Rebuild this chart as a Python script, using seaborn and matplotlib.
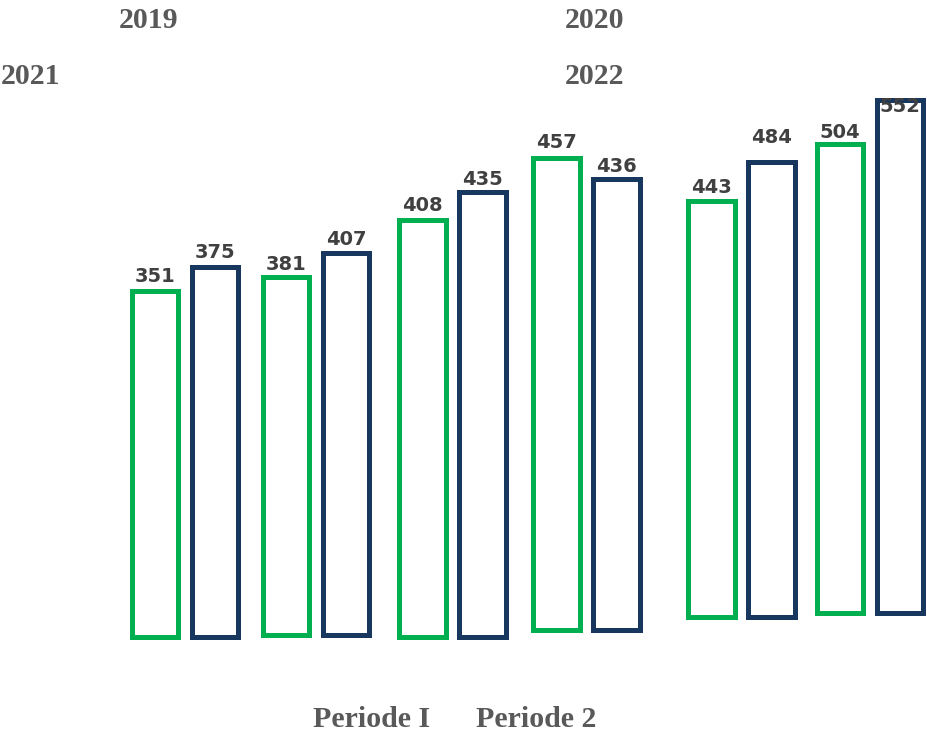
import matplotlib
matplotlib.use("Agg")
import matplotlib.pyplot as plt
import pandas as pd
import seaborn as sns

# data
periods = ["Periode I", "Periode 2"]
years = ["2019", "2020", "2021", "2022"]
periode_1 = [351, 381, 408, 457, 443, 504]
periode_2 = [375, 407, 435, 436, 484, 552]

colors = {"Periode I": "#00B050", "Periode 2": "#17375E"}

sns.set_theme(style="white")
plt.rcParams['font.family'] = ['DejaVu Sans']

W, H = 927, 733
fig = plt.figure(figsize=(W / 100, H / 100), dpi=100)

# pixel layout of each pair of bars: left bar centre, baseline, px per unit
centres = [155, 286, 422.5, 556.7, 711.7, 840]
baselines = [637.2, 634.5, 637.3, 629.7, 616.9, 612.6]
px_per_unit = [0.986, 0.938, 1.023, 1.033, 0.939, 0.929]
# label offset above each bar top, in points
label_pad = [[6.5, 6.6], [5.4, 5.4], [6.1, 4.9], [6.6, 5.4], [5.4, 13.8], [4.7, -8.6]]
ymax = 600

for i in range(len(periode_1)):
    c, b, s = centres[i], baselines[i], px_per_unit[i]
    ax = fig.add_axes([(c - 30) / W, (H - b) / H, 120 / W, ymax * s / H])
    df = pd.DataFrame({"periode": periods, "value": [periode_1[i], periode_2[i]]})
    sns.barplot(data=df, x="periode", y="value", hue="periode", palette=colors,
                fill=False, linewidth=3.6, width=0.78, legend=False, ax=ax)
    for p in ax.patches:
        p.set_clip_on(False)
    for j, v in enumerate(df["value"]):
        ax.annotate(f"{v}", (j, v), xytext=(0, label_pad[i][j]), textcoords="offset points",
                    ha="center", va="baseline", fontsize=14, fontweight="bold",
                    color="#404040", annotation_clip=False)
    ax.set_xlim(-0.5, 1.5)
    ax.set_ylim(0, ymax)
    ax.axis("off")

# year titles and period labels
serif = dict(family="Liberation Serif", fontweight="bold", fontsize=21.5, color="#595959")
year_pos = [(149, 21), (595, 21), (31, 76), (595, 76)]
for yr, (x, y) in zip(years, year_pos):
    fig.text(x / W, 1 - y / H, yr, ha="center", va="center", **serif)

period_pos = [372, 536]
for lab, x in zip(periods, period_pos):
    fig.text(x / W, 1 - 726.7 / H, lab, ha="center", va="baseline", **serif)

fig.savefig("out.png", dpi=100)
